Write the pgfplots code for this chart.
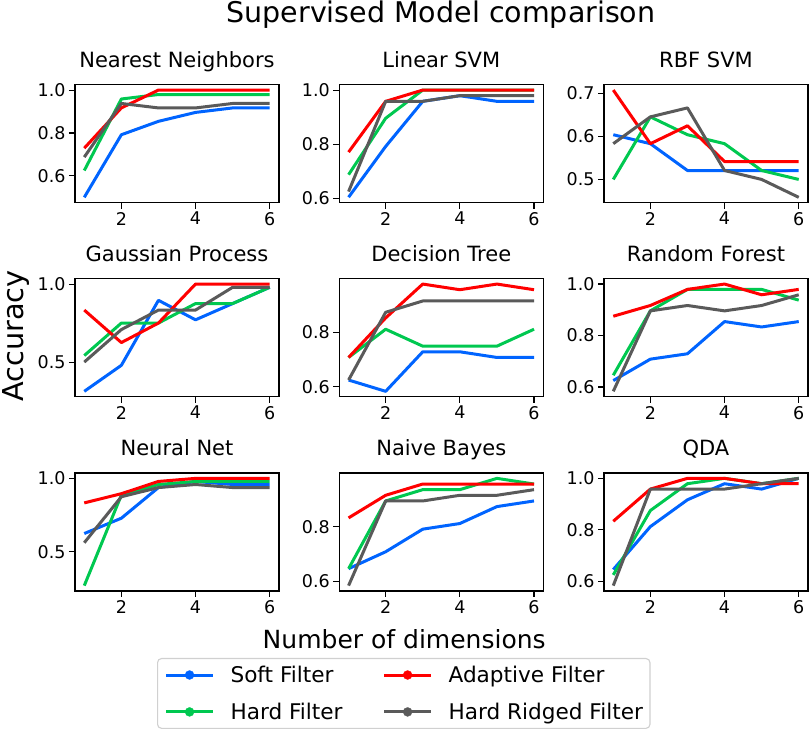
\documentclass[border=0pt]{standalone}
\usepackage{fontspec}
\setmainfont{DejaVu Sans}
\usepackage{pgfplots}
\usepackage{pgfplotstable}
\pgfplotsset{compat=1.18}
\definecolor{cblue}{HTML}{0064FF}
\definecolor{cgreen}{HTML}{00C850}
\definecolor{cred}{HTML}{FF0000}
\definecolor{cgray}{HTML}{5A5A5A}
\definecolor{legedge}{HTML}{D0D0D0}

% columns: x  b (Soft)  g (Hard)  r (Adaptive)  k (Hard Ridged)
\pgfplotstableread{
x b g r k
1 0.5000 0.6250 0.7292 0.6875
2 0.7917 0.9583 0.9167 0.9375
3 0.8542 0.9792 1.0000 0.9167
4 0.8958 0.9792 1.0000 0.9167
5 0.9167 0.9792 1.0000 0.9375
6 0.9167 0.9792 1.0000 0.9375
}\tNN
\pgfplotstableread{
x b g r k
1 0.6042 0.6875 0.7708 0.6250
2 0.7917 0.8958 0.9583 0.9583
3 0.9583 1.0000 1.0000 0.9583
4 0.9792 1.0000 1.0000 0.9792
5 0.9583 1.0000 1.0000 0.9792
6 0.9583 1.0000 1.0000 0.9792
}\tLSVM
\pgfplotstableread{
x b g r k
1 0.6042 0.5000 0.7083 0.5833
2 0.5833 0.6458 0.5833 0.6458
3 0.5208 0.6042 0.6250 0.6667
4 0.5208 0.5833 0.5417 0.5208
5 0.5208 0.5208 0.5417 0.5000
6 0.5208 0.5000 0.5417 0.4583
}\tRBF
\pgfplotstableread{
x b g r k
1 0.3125 0.5417 0.8333 0.5000
2 0.4792 0.7500 0.6250 0.7083
3 0.8958 0.7500 0.7500 0.8333
4 0.7708 0.8750 1.0000 0.8333
5 0.8750 0.8750 1.0000 0.9792
6 0.9792 0.9792 1.0000 0.9792
}\tGP
\pgfplotstableread{
x b g r k
1 0.6250 0.7083 0.7083 0.6250
2 0.5833 0.8125 0.8542 0.8750
3 0.7292 0.7500 0.9792 0.9167
4 0.7292 0.7500 0.9583 0.9167
5 0.7083 0.7500 0.9792 0.9167
6 0.7083 0.8125 0.9583 0.9167
}\tDT
\pgfplotstableread{
x b g r k
1 0.6250 0.6458 0.8750 0.5833
2 0.7083 0.8958 0.9167 0.8958
3 0.7292 0.9792 0.9792 0.9167
4 0.8542 0.9792 1.0000 0.8958
5 0.8333 0.9792 0.9583 0.9167
6 0.8542 0.9375 0.9792 0.9583
}\tRF
\pgfplotstableread{
x b g r k
1 0.6250 0.2708 0.8333 0.5625
2 0.7292 0.8860 0.8958 0.8750
3 0.9375 0.9583 0.9792 0.9375
4 0.9792 0.9792 1.0000 0.9583
5 0.9583 0.9792 1.0000 0.9375
6 0.9583 0.9792 1.0000 0.9375
}\tNNet
\pgfplotstableread{
x b g r k
1 0.6458 0.6458 0.8333 0.5833
2 0.7083 0.8958 0.9167 0.8958
3 0.7917 0.9375 0.9583 0.8958
4 0.8125 0.9375 0.9583 0.9167
5 0.8750 0.9792 0.9583 0.9167
6 0.8958 0.9583 0.9583 0.9375
}\tNB
\pgfplotstableread{
x b g r k
1 0.6458 0.6250 0.8333 0.5833
2 0.8125 0.8750 0.9583 0.9583
3 0.9167 0.9792 1.0000 0.9583
4 0.9792 1.0000 1.0000 0.9583
5 0.9583 0.9792 0.9792 0.9792
6 1.0000 1.0000 0.9792 1.0000
}\tQDA

\pgfplotsset{
  sub/.style={
    scale only axis, width=204pt, height=118pt,
    xmin=0.75, xmax=6.25, xtick={2,4,6},
    tick align=outside, tick pos=left,
    major tick length=6pt,
    axis line style={line width=1.1pt},
    every tick/.append style={black, line width=1.1pt},
    tick label style={font=\fontsize{17.5}{21}\selectfont},
    /pgf/number format/assume math mode=true,
    yticklabel style={/pgf/number format/fixed, /pgf/number format/fixed zerofill, /pgf/number format/precision=1},
    title style={font=\fontsize{21}{25}\selectfont, at={(0.5,1)}, anchor=base, yshift=11pt},
    every axis plot/.append style={line width=3pt, line join=round, forget plot},
    anchor=south west,
  },
}
\newcommand{\fourlines}[1]{%
  \addplot[cblue] table[x=x,y=b] {#1};
  \addplot[cgreen] table[x=x,y=g] {#1};
  \addplot[cred] table[x=x,y=r] {#1};
  \addplot[cgray] table[x=x,y=k] {#1};
}

\begin{document}
\begin{tikzpicture}[x=1pt,y=1pt]
\path[use as bounding box] (0,0) rectangle (809,741);

% row 1
\begin{axis}[sub, at={(75pt,538.3pt)}, title={Nearest Neighbors}, ymin=0.475, ymax=1.025, ytick={0.6,0.8,1.0}]
\fourlines{\tNN}
\end{axis}
\begin{axis}[sub, at={(339.3pt,538.3pt)}, title={Linear SVM}, ymin=0.584, ymax=1.0198, ytick={0.6,0.8,1.0}]
\fourlines{\tLSVM}
\end{axis}
\begin{axis}[sub, at={(604pt,538.3pt)}, title={RBF SVM}, ymin=0.4458, ymax=0.7208, ytick={0.5,0.6,0.7}]
\fourlines{\tRBF}
\end{axis}

% row 2
\begin{axis}[sub, at={(75pt,344.3pt)}, title={Gaussian Process}, ymin=0.2781, ymax=1.0344, ytick={0.5,1.0}]
\fourlines{\tGP}
\end{axis}
\begin{axis}[sub, at={(339.3pt,344.3pt)}, title={Decision Tree}, ymin=0.5635, ymax=0.999, ytick={0.6,0.8}]
\fourlines{\tDT}
\end{axis}
\begin{axis}[sub, at={(604pt,344.3pt)}, title={Random Forest}, ymin=0.5625, ymax=1.0208, ytick={0.6,0.8,1.0}]
\fourlines{\tRF}
\end{axis}

% row 3
\begin{axis}[sub, at={(75pt,150pt)}, title={Neural Net}, ymin=0.2344, ymax=1.0365, ytick={0.5,1.0}]
\fourlines{\tNNet}
\end{axis}
\begin{axis}[sub, at={(339.3pt,150pt)}, title={Naive Bayes}, ymin=0.5635, ymax=0.999, ytick={0.6,0.8},
  legend columns=2,
  legend cell align=left,
  legend image code/.code={\draw[mark repeat=2,mark phase=2,#1] plot coordinates {(0pt,0pt) (23.5pt,0pt) (47pt,0pt)};},
  legend style={at={(-0.8936,-0.5678)}, anchor=north west,
    draw=legedge, line width=1.1pt, rounded corners=4pt,
    inner xsep=7pt, inner ysep=7.5pt, row sep=19pt,
    font=\fontsize{21.6}{26}\selectfont,
    nodes={inner sep=0pt},
    /tikz/every odd column/.append style={column sep=16pt},
    /tikz/every even column/.append style={column sep=40pt}},
]
\fourlines{\tNB}
\addlegendimage{cblue, line width=3pt, mark=*, mark size=4.5pt, mark options={solid, line width=0.3pt}}
\addlegendentry{Soft Filter}
\addlegendimage{cred, line width=3pt, mark=*, mark size=4.5pt, mark options={solid, line width=0.3pt}}
\addlegendentry{Adaptive Filter}
\addlegendimage{cgreen, line width=3pt, mark=*, mark size=4.5pt, mark options={solid, line width=0.3pt}}
\addlegendentry{Hard Filter}
\addlegendimage{cgray, line width=3pt, mark=*, mark size=4.5pt, mark options={solid, line width=0.3pt}}
\addlegendentry{Hard Ridged Filter}
\end{axis}
\begin{axis}[sub, at={(604pt,150pt)}, title={QDA}, ymin=0.5625, ymax=1.0208, ytick={0.6,0.8,1.0}]
\fourlines{\tQDA}
\end{axis}

\node[anchor=base, font=\fontsize{28.5}{32}\selectfont] at (441,718.3) {Supervised Model comparison};
\node[anchor=base, font=\fontsize{25}{30}\selectfont] at (404.2,92.7) {Number of dimensions};
\node[anchor=base, rotate=90, font=\fontsize{28.8}{32}\selectfont] at (23,405) {Accuracy};
\end{tikzpicture}
\end{document}
